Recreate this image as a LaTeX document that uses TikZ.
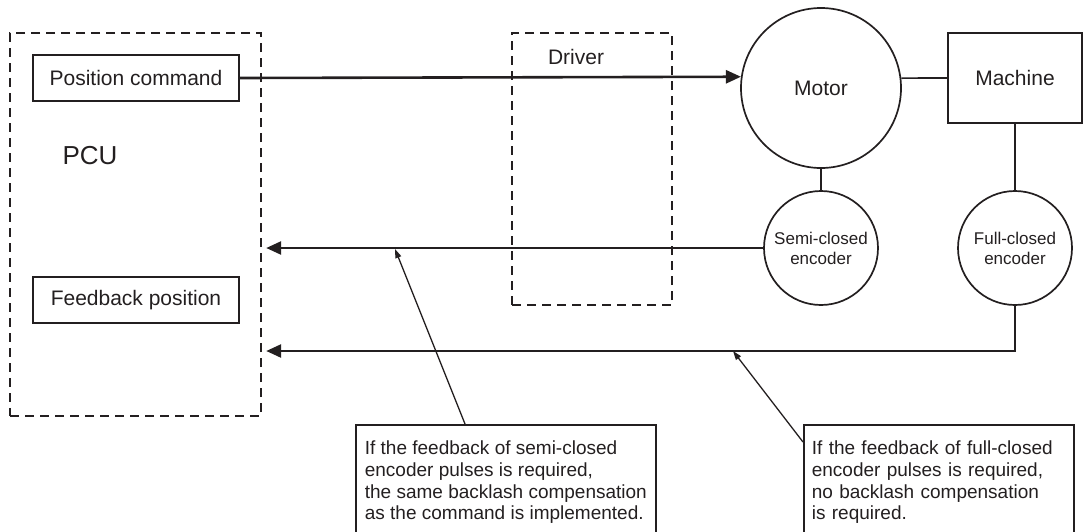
\documentclass[tikz,border=0pt]{standalone}
\usepackage{fontspec}
\setmainfont{Liberation Sans}
\usetikzlibrary{arrows.meta, positioning}
\definecolor{inkGrey}{HTML}{231F20}
\hyphenpenalty=10000
\exhyphenpenalty=10000

\begin{document}
\begin{tikzpicture}[x=1pt, y=-1pt,
        zone/.style={draw=inkGrey, line width=2.4pt, dash pattern=on 9pt off 6pt, inner sep=0pt},
        block/.style={draw=inkGrey, line width=1.7pt, inner sep=0pt, text=inkGrey, font=\fontsize{21}{24}\selectfont},
        wheel/.style={circle, draw=inkGrey, line width=1.7pt, inner sep=0pt, text=inkGrey, align=center},
        note/.style={draw=inkGrey, line width=1.7pt, anchor=north west, align=left, inner xsep=8pt, inner ysep=16pt, text=inkGrey, font=\fontsize{19}{21.7}\selectfont},
        link/.style={draw=inkGrey, line width=1.7pt},
        feed/.style={draw=inkGrey, line width=2.6pt, -{Triangle[length=15pt, width=13pt]}},
        lead/.style={draw=inkGrey, line width=1.3pt, -{Triangle[length=9pt, width=6pt]}}
      ]
        \useasboundingbox (0,0) rectangle (1084,531);
        \clip (0,0) rectangle (1084,531);

        % PCU side
        \node[zone, minimum width=251pt, minimum height=383pt] (pcu) at (135.5,224.5) {};
        \node[block, minimum width=206pt, minimum height=46pt] (poscmd) at (136,78) {Position command};
        \node[text=inkGrey, font=\fontsize{26}{30}\selectfont] (pculabel) at (90,156) {PCU};
        \node[block, minimum width=206pt, minimum height=46pt] (fbpos) at (136,300) {Feedback position};

        % Driver
        \node[zone, minimum width=160pt, minimum height=272pt] (driver) at (592,169) {};
        \node[text=inkGrey, font=\fontsize{21}{24}\selectfont] (drvlabel) at (576,57) {Driver};

        % Motor, machine and encoders
        \node[wheel, minimum size=160pt, font=\fontsize{21}{24}\selectfont] (motor) at (821,88) {Motor};
        \node[block, minimum width=134pt, minimum height=90pt] (machine) at (1015,78) {Machine};
        \node[wheel, minimum size=114pt, font=\fontsize{17}{20}\selectfont] (semienc) at (821,248) {Semi-closed\\encoder};
        \node[wheel, minimum size=114pt, font=\fontsize{17}{20}\selectfont] (fullenc) at (1015,248) {Full-closed\\encoder};

        % Notes
        \node[note, minimum width=300pt] (noteA) at (355,424) {If the feedback of semi-closed\\encoder pulses is required,\\the same backlash compensation\\as the command is implemented.};
        \node[note, text width=254pt] (noteB) at (803,424) {If the feedback of full-closed\\encoder pulses is required,\\no backlash compensation\\is required.};

        \coordinate (fbturn) at (1015,351);
        \coordinate (tipA) at (395,249);
        \coordinate (tipB) at (733,351);
        \coordinate (footA) at (465,424);
        \coordinate (footB) at (803,442);

        % Connections
        \draw[feed] (poscmd.east) -- (motor.172.8);
        \draw[link] (motor.7.2) -- (machine.west);
        \draw[link] (motor.south) -- (semienc.north);
        \draw[link] (machine.south) -- (fullenc.north);
        \draw[feed, shorten >=4pt] (semienc.west) -- (semienc.west -| pcu.east);
        \draw[feed, shorten >=4pt] (fullenc.south) -- (fbturn) -- (fbturn -| pcu.east);
        \draw[lead] (footA) -- (tipA);
        \draw[lead] (footB) -- (tipB);
      \end{tikzpicture}
\end{document}
